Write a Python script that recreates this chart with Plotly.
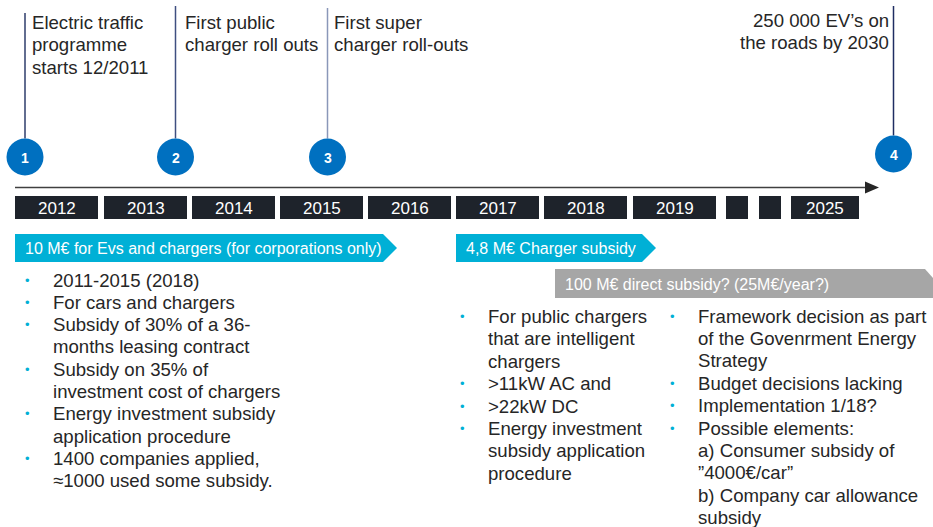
import plotly.graph_objects as go

# ---------------- data ----------------
years = ["2012", "2013", "2014", "2015", "2016", "2017", "2018", "2019", "", "", "2025"]
milestone_numbers = ["1", "2", "3", "4"]
milestone_texts = [
    ["Electric traffic", "programme", "starts 12/2011"],
    ["First public", "charger roll outs"],
    ["First super", "charger roll-outs"],
    ["250 000 EV’s on", "the roads by 2030"],
]
programme_labels = [
    "10 M€ for Evs and chargers (for corporations only)",
    "4,8 M€ Charger subsidy",
    "100 M€ direct subsidy? (25M€/year?)",
]
list_corporate = [
    ["2011-2015 (2018)"],
    ["For cars and chargers"],
    ["Subsidy of 30% of a 36-", "months leasing contract"],
    ["Subsidy on 35% of", "investment cost of chargers"],
    ["Energy investment subsidy", "application procedure"],
    ["1400 companies applied,", "≈1000 used some subsidy."],
]
list_charger = [
    ["For public chargers", "that are intelligent", "chargers"],
    [">11kW AC and"],
    [">22kW DC"],
    ["Energy investment", "subsidy application", "procedure"],
]
list_direct = [
    ["Framework decision as part", "of the Govenrment Energy", "Strategy"],
    ["Budget decisions lacking"],
    ["Implementation 1/18?"],
    ["Possible elements:", "a) Consumer subsidy of", "”4000€/car”", "b) Company car allowance", "subsidy"],
]

# ---------------- layout constants (page pixels) ----------------
W, H = 933, 527
year_x0 = [15, 104, 192, 280, 368, 456, 544, 633, 726, 759, 791]
year_x1 = [98, 187, 275, 363, 451, 539, 627, 716, 748, 781, 859]
year_y0, year_y1 = 196, 219
ms_cx = [25, 175.5, 327.5, 893.5]
ms_cy = [157, 157, 157, 154]
ms_r = 18.5
ms_line_top = [13, 6, 8, 6]
ms_line_col = ["#2e3d6b", "#3f4f80", "#8a97b8", "#1f2d62"]
ms_text_x = [30, 183, 332, 891]
ms_text_anchor = ["left", "left", "left", "right"]
ms_text_y0 = [22, 22, 22, 20]
ms_line_h = 22.8

TXT = "#262626"
CYAN = "#00b0d6"
GREY = "#a6a6a6"
NAVY = "#1e232b"
BLUE = "#0070c0"
FONT = "Liberation Sans, Arial, sans-serif"
FS = 18.6

fig = go.Figure()
fig.add_trace(go.Scatter(x=[0, W], y=[0, H], mode="markers",
                         marker=dict(opacity=0), hoverinfo="skip", showlegend=False))

shapes = []
ann = []

# timeline arrow
shapes.append(dict(type="line", x0=15, x1=867, y0=187.5, y1=187.5,
                   line=dict(color="#404040", width=1.5)))
shapes.append(dict(type="path", path="M 865,181.5 L 879,187.5 L 865,193.5 Z",
                   fillcolor="#262626", line=dict(width=0)))

# year boxes
for lab, x0, x1 in zip(years, year_x0, year_x1):
    shapes.append(dict(type="rect", x0=x0, x1=x1, y0=year_y0, y1=year_y1,
                       fillcolor=NAVY, line=dict(width=0)))
    if lab:
        ann.append(dict(x=(x0 + x1) / 2, y=(year_y0 + year_y1) / 2 + 0.5, text=lab,
                        font=dict(color="white", size=17, family=FONT),
                        xanchor="center", yanchor="middle"))

# milestones
for i, num in enumerate(milestone_numbers):
    cx, cy = ms_cx[i], ms_cy[i]
    shapes.append(dict(type="line", x0=cx, x1=cx, y0=ms_line_top[i], y1=cy - ms_r,
                       line=dict(color=ms_line_col[i], width=1.5)))
    shapes.append(dict(type="circle", x0=cx - ms_r, x1=cx + ms_r, y0=cy - ms_r, y1=cy + ms_r,
                       fillcolor=BLUE, line=dict(width=0)))
    ann.append(dict(x=cx, y=cy + 0.5, text="<b>%s</b>" % num,
                    font=dict(color="white", size=14, family=FONT),
                    xanchor="center", yanchor="middle"))
    for j, line in enumerate(milestone_texts[i]):
        ann.append(dict(x=ms_text_x[i], y=ms_text_y0[i] + j * ms_line_h, text=line,
                        font=dict(color=TXT, size=FS, family=FONT),
                        xanchor=ms_text_anchor[i], yanchor="middle"))

# programme ribbons
ribbons = [
    dict(path="M 15,234 L 383,234 L 397,248 L 383,262 L 15,262 Z", col=CYAN, tx=23, ty=248.5),
    dict(path="M 456,234 L 642,234 L 656,248 L 642,262 L 456,262 Z", col=CYAN, tx=464, ty=248.5),
    dict(path="M 555,269 L 925,269 L 933,278 L 933,298 L 555,298 Z", col=GREY, tx=563, ty=284),
]
for lab, r in zip(programme_labels, ribbons):
    shapes.append(dict(type="path", path=r["path"], fillcolor=r["col"], line=dict(width=0)))
    ann.append(dict(x=r["tx"], y=r["ty"], text=lab,
                    font=dict(color="white", size=16, family=FONT),
                    xanchor="left", yanchor="middle"))

# bullet lists
def add_list(items, bx, tx, y0, lh):
    k = 0
    for item in items:
        for j, line in enumerate(item):
            y = y0 + k * lh
            if j == 0:
                ann.append(dict(x=bx, y=y, text="•", font=dict(color=CYAN, size=13, family=FONT),
                                xanchor="center", yanchor="middle"))
            ann.append(dict(x=tx, y=y, text=line, font=dict(color=TXT, size=FS, family=FONT),
                            xanchor="left", yanchor="middle"))
            k += 1

add_list(list_corporate, 27, 51, 280, 22.3)
add_list(list_charger, 462, 486, 316.5, 22.4)
add_list(list_direct, 672, 696, 316, 22.4)

for a in ann:
    a.update(xref="x", yref="y", showarrow=False)
for s in shapes:
    s.update(xref="x", yref="y")

fig.update_layout(
    width=W, height=H,
    margin=dict(l=0, r=0, t=0, b=0),
    paper_bgcolor="white", plot_bgcolor="white",
    xaxis=dict(range=[0, W], visible=False, fixedrange=True),
    yaxis=dict(range=[H, 0], visible=False, fixedrange=True),
    shapes=shapes, annotations=ann, showlegend=False,
)
fig.write_html(
    "out.html",
    config={"displayModeBar": False, "staticPlot": True},
    post_script="document.body.style.margin='0';document.body.style.padding='0';"
                "document.body.style.overflow='hidden';"
                "document.documentElement.style.overflow='hidden';",
)
